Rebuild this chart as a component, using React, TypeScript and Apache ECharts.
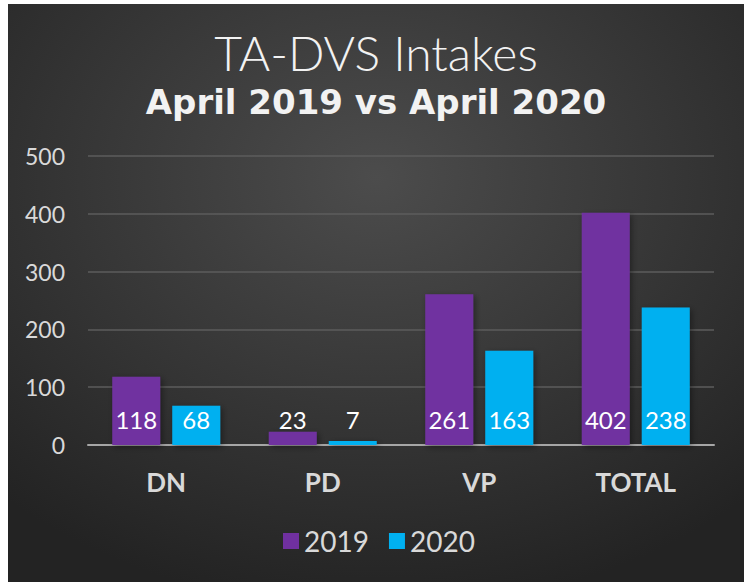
import React, { useEffect, useRef } from "react";
import * as echarts from "echarts";

const categories = ["DN", "PD", "VP", "TOTAL"];
const values2019 = [118, 23, 261, 402];
const values2020 = [68, 7, 163, 238];
const seriesNames = ["2019", "2020"];
const titleText = "TA-DVS Intakes";
const subtitleText = "April 2019 vs April 2020";

export default function App() {
  const ref = useRef<HTMLDivElement>(null);
  useEffect(() => {
    if (!ref.current) return;
    const chart = echarts.init(ref.current, null, { renderer: "svg" });
    const font = "Lato, 'Noto Sans', sans-serif";
    const label = {
      show: true,
      position: "insideBottom" as const,
      distance: 14,
      color: "#ffffff",
      fontSize: 24,
      fontFamily: font,
    };
    chart.setOption({
      animation: false,
      backgroundColor: {
        type: "radial",
        x: 0.5,
        y: 0.3,
        r: 0.75,
        colorStops: [
          { offset: 0, color: "#4c4c4c" },
          { offset: 1, color: "#232323" },
        ],
      },
      title: [
        {
          text: titleText,
          left: "center",
          top: 19,
          textStyle: { color: "#f2f2f2", fontSize: 48, fontWeight: 300, fontFamily: font },
        },
        {
          text: subtitleText,
          left: "center",
          top: 76,
          textStyle: { color: "#f2f2f2", fontSize: 34, fontWeight: "bold", fontFamily: "'DejaVu Sans', sans-serif" },
        },
      ],
      legend: {
        data: seriesNames,
        bottom: 22,
        left: 270,
        itemWidth: 16,
        itemHeight: 16,
        itemGap: 20,
        icon: "rect",
        textStyle: { color: "#d9d9d9", fontSize: 28, fontFamily: font },
      },
      grid: { left: 80, right: 30, top: 152, bottom: 137 },
      xAxis: {
        type: "category",
        data: categories,
        axisLine: { lineStyle: { color: "#a6a6a6", width: 2 } },
        axisTick: { show: false },
        axisLabel: {
          color: "#d9d9d9",
          fontSize: 26,
          fontWeight: "bold",
          fontFamily: font,
          margin: 24,
        },
      },
      yAxis: {
        type: "value",
        min: 0,
        max: 500,
        interval: 100,
        axisLine: { show: false },
        axisTick: { show: false },
        splitLine: { lineStyle: { color: "#5c5c5c", width: 1.5 } },
        axisLabel: { color: "#d9d9d9", fontSize: 23, fontFamily: font, margin: 23 },
      },
      series: [
        {
          name: seriesNames[0],
          type: "bar",
          data: values2019,
          barWidth: 48,
          barGap: "25%",
          itemStyle: { color: "#7030a0", shadowColor: "rgba(0,0,0,0.4)", shadowBlur: 6, shadowOffsetX: 2, shadowOffsetY: 2 },
          label,
        },
        {
          name: seriesNames[1],
          type: "bar",
          data: values2020,
          barWidth: 48,
          itemStyle: { color: "#00b0f0", shadowColor: "rgba(0,0,0,0.4)", shadowBlur: 6, shadowOffsetX: 2, shadowOffsetY: 2 },
          label,
        },
      ],
    });
    return () => chart.dispose();
  }, []);
  return (
    <div
      ref={ref}
      style={{ position: "absolute", left: 8, top: 4, width: 736, height: 578 }}
    />
  );
}
